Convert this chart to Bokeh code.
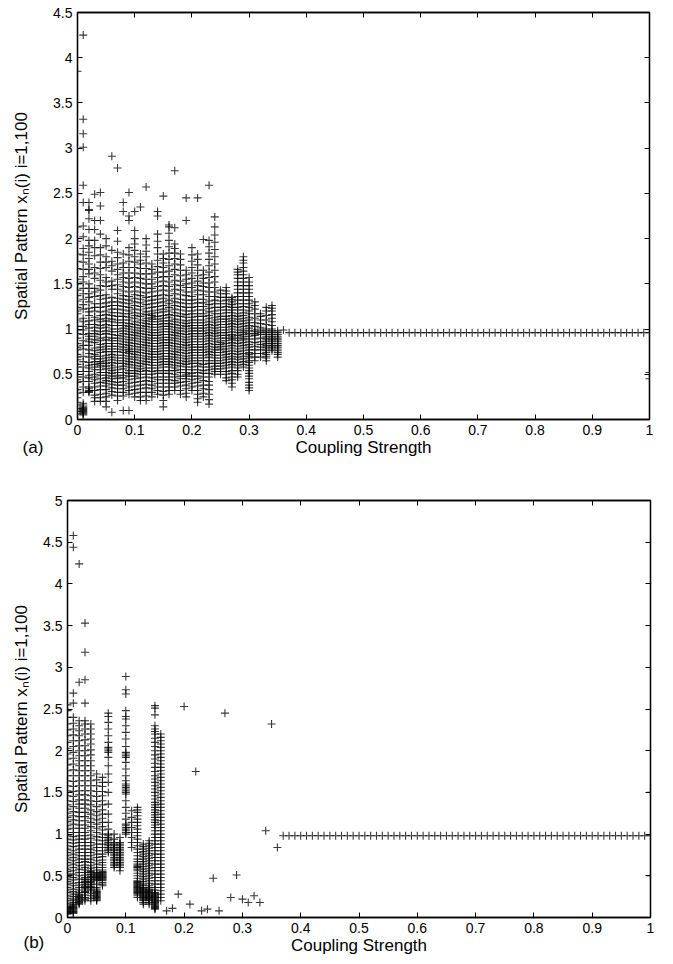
from bokeh.plotting import figure
from bokeh.models import LinearAxis, FixedTicker, Label, Range1d
from bokeh.embed import file_html
from bokeh.resources import INLINE

# ---------------- data: panel (a) ----------------
a_coupling_dense = [0.00, 0.01, 0.02, 0.03, 0.04, 0.05, 0.06, 0.07, 0.08, 0.09,
                    0.10, 0.11, 0.12, 0.13, 0.14, 0.15, 0.16, 0.17, 0.18, 0.19,
                    0.20, 0.21, 0.22, 0.23, 0.24, 0.25, 0.26, 0.27, 0.28, 0.29,
                    0.30, 0.31, 0.32, 0.33, 0.34, 0.35, 0.36]
a_values_dense = [
    [0.06, 0.09, 0.12, 0.16, 0.24, 0.33, 0.41, 0.47, 0.53, 0.61, 0.66, 0.72, 0.77, 0.84, 0.9, 0.95, 1.03, 1.1, 1.17, 1.24, 1.31, 1.43, 1.55, 1.67, 1.83, 1.97, 2.13, 3.85],
    [0.05, 0.06, 0.07, 0.08, 0.09, 0.1, 0.11, 0.12, 0.13, 0.14, 0.16, 0.18, 0.36, 0.47, 0.58, 0.7, 0.78, 0.87, 0.94, 1.03, 1.12, 1.22, 1.33, 1.45, 1.58, 1.74, 1.89, 2.02, 2.14, 2.4, 2.59, 3.01, 3.16, 3.32, 4.25],
    [0.3, 0.31, 0.32, 0.34, 0.42, 0.49, 0.57, 0.63, 0.69, 0.77, 0.82, 0.89, 0.95, 1.01, 1.09, 1.15, 1.23, 1.3, 1.39, 1.5, 1.61, 1.72, 1.85, 1.98, 2.1, 2.22, 2.31, 2.32, 2.4],
    [0.2, 0.27, 0.36, 0.44, 0.5, 0.55, 0.61, 0.67, 0.72, 0.79, 0.85, 0.92, 0.98, 1.05, 1.13, 1.2, 1.28, 1.36, 1.45, 1.56, 1.68, 1.81, 1.98, 2.2, 2.49],
    [0.2, 0.28, 0.37, 0.45, 0.52, 0.58, 0.6, 0.62, 0.64, 0.7, 0.77, 0.83, 0.9, 0.97, 1.04, 1.11, 1.19, 1.28, 1.37, 1.48, 1.6, 1.74, 1.9, 2.05, 2.2, 2.36, 2.51],
    [0.14, 0.25, 0.33, 0.4, 0.46, 0.52, 0.59, 0.65, 0.71, 0.78, 0.84, 0.91, 0.98, 1.05, 1.12, 1.2, 1.29, 1.38, 1.47, 1.57, 1.68, 1.8, 1.92, 2.0],
    [0.08, 0.27, 0.35, 0.42, 0.48, 0.54, 0.6, 0.66, 0.72, 0.78, 0.84, 0.9, 0.97, 1.04, 1.11, 1.18, 1.26, 1.35, 1.44, 1.53, 1.64, 1.75, 1.87, 2.91],
    [0.21, 0.3, 0.38, 0.45, 0.47, 0.49, 0.55, 0.62, 0.68, 0.75, 0.81, 0.87, 0.93, 1.0, 1.07, 1.14, 1.22, 1.3, 1.39, 1.49, 1.6, 1.72, 1.85, 1.97, 2.09, 2.78],
    [0.1, 0.26, 0.34, 0.42, 0.49, 0.56, 0.62, 0.68, 0.74, 0.8, 0.86, 0.92, 0.98, 1.04, 1.1, 1.17, 1.25, 1.33, 1.42, 1.52, 1.62, 1.73, 1.83, 2.3, 2.4],
    [0.1, 0.28, 0.36, 0.44, 0.51, 0.58, 0.64, 0.7, 0.75, 0.77, 0.79, 0.85, 0.91, 0.97, 1.03, 1.1, 1.17, 1.24, 1.32, 1.41, 1.51, 1.62, 1.75, 1.9, 2.2, 2.25, 2.51],
    [0.25, 0.33, 0.41, 0.48, 0.54, 0.6, 0.66, 0.72, 0.78, 0.84, 0.9, 0.96, 1.02, 1.08, 1.15, 1.22, 1.3, 1.38, 1.47, 1.57, 1.68, 1.8, 1.94, 2.09, 2.3],
    [0.21, 0.3, 0.38, 0.46, 0.53, 0.59, 0.65, 0.71, 0.77, 0.83, 0.89, 0.95, 1.01, 1.07, 1.14, 1.21, 1.29, 1.37, 1.46, 1.56, 1.67, 1.76, 1.83, 2.35],
    [0.21, 0.3, 0.39, 0.47, 0.54, 0.61, 0.67, 0.73, 0.79, 0.85, 0.91, 0.97, 1.03, 1.09, 1.16, 1.23, 1.31, 1.4, 1.5, 1.61, 1.73, 1.86, 2.0, 2.57],
    [0.25, 0.34, 0.42, 0.5, 0.57, 0.63, 0.69, 0.75, 0.81, 0.87, 0.93, 0.99, 1.05, 1.11, 1.13, 1.15, 1.17, 1.24, 1.32, 1.41, 1.5, 1.61, 1.72],
    [0.28, 0.36, 0.44, 0.51, 0.57, 0.63, 0.69, 0.75, 0.81, 0.87, 0.93, 0.99, 1.05, 1.11, 1.18, 1.25, 1.33, 1.42, 1.52, 1.63, 1.76, 1.9, 2.05, 2.25, 2.3],
    [0.14, 0.27, 0.36, 0.44, 0.51, 0.58, 0.64, 0.7, 0.76, 0.82, 0.88, 0.94, 1.0, 1.06, 1.12, 1.19, 1.26, 1.34, 1.43, 1.53, 1.63, 1.73, 1.83, 2.47],
    [0.28, 0.36, 0.44, 0.51, 0.58, 0.64, 0.7, 0.76, 0.82, 0.88, 0.94, 1.0, 1.06, 1.13, 1.2, 1.28, 1.37, 1.47, 1.58, 1.7, 1.84, 1.98, 2.13, 2.15],
    [0.32, 0.4, 0.47, 0.54, 0.6, 0.66, 0.72, 0.78, 0.84, 0.9, 0.96, 1.02, 1.08, 1.15, 1.22, 1.3, 1.39, 1.49, 1.6, 1.72, 1.84, 1.94, 2.12, 2.75],
    [0.28, 0.37, 0.45, 0.52, 0.59, 0.65, 0.71, 0.77, 0.83, 0.89, 0.95, 1.01, 1.07, 1.14, 1.21, 1.29, 1.38, 1.48, 1.59, 1.71, 1.83],
    [0.25, 0.34, 0.42, 0.48, 0.5, 0.52, 0.58, 0.64, 0.7, 0.76, 0.82, 0.88, 0.94, 1.0, 1.06, 1.13, 1.2, 1.28, 1.37, 1.46, 1.55, 1.65, 2.2, 2.45],
    [0.32, 0.4, 0.48, 0.55, 0.62, 0.68, 0.74, 0.8, 0.86, 0.92, 0.98, 1.04, 1.1, 1.17, 1.24, 1.32, 1.41, 1.51, 1.62, 1.75, 1.9],
    [0.19, 0.28, 0.37, 0.45, 0.52, 0.59, 0.65, 0.71, 0.77, 0.83, 0.89, 0.95, 1.01, 1.07, 1.14, 1.21, 1.29, 1.38, 1.48, 1.59, 1.71, 1.83, 2.45],
    [0.25, 0.34, 0.43, 0.51, 0.58, 0.65, 0.71, 0.77, 0.83, 0.89, 0.95, 1.01, 1.07, 1.14, 1.21, 1.29, 1.38, 1.47, 1.56, 1.65, 1.99],
    [0.17, 0.28, 0.38, 0.47, 0.55, 0.62, 0.69, 0.75, 0.81, 0.87, 0.93, 0.99, 1.05, 1.12, 1.19, 1.27, 1.36, 1.46, 1.57, 1.7, 1.84, 1.98, 2.59],
    [0.5, 0.56, 0.62, 0.68, 0.74, 0.8, 0.86, 0.92, 0.98, 1.04, 1.1, 1.17, 1.24, 1.32, 1.41, 1.52, 1.65, 1.8, 1.96, 2.13, 2.24],
    [0.5, 0.56, 0.62, 0.68, 0.74, 0.79, 0.81, 0.83, 0.85, 0.9, 0.96, 1.02, 1.08, 1.14, 1.21, 1.28, 1.35, 1.43],
    [0.43, 0.5, 0.57, 0.63, 0.69, 0.75, 0.81, 0.87, 0.93, 0.99, 1.05, 1.11, 1.18, 1.25, 1.32, 1.39, 1.46],
    [0.36, 0.44, 0.51, 0.58, 0.64, 0.7, 0.76, 0.82, 0.88, 0.9, 0.92, 0.94, 1.0, 1.06, 1.12, 1.18, 1.24, 1.3, 1.35],
    [0.47, 0.54, 0.6, 0.66, 0.72, 0.78, 0.84, 0.9, 0.96, 1.02, 1.08, 1.14, 1.21, 1.28, 1.36, 1.44, 1.52, 1.6, 1.66],
    [0.58, 0.64, 0.7, 0.76, 0.82, 0.88, 0.92, 0.94, 0.96, 1.0, 1.06, 1.12, 1.18, 1.25, 1.32, 1.4, 1.48, 1.56, 1.64, 1.73, 1.8],
    [0.32, 0.38, 0.45, 0.51, 0.57, 0.63, 0.68, 0.7, 0.72, 0.74, 0.8, 0.86, 0.92, 0.98, 1.04, 1.1, 1.17, 1.24, 1.32, 1.4, 1.48, 1.57],
    [0.65, 0.69, 0.73, 0.77, 0.81, 0.85, 0.89, 0.93, 0.95, 0.97, 0.99, 1.03, 1.07, 1.12, 1.17, 1.22, 1.26, 1.3],
    [0.69, 0.73, 0.77, 0.8, 0.83, 0.86, 0.9, 0.94, 0.96, 0.98, 1.0, 1.02, 1.06, 1.1, 1.14, 1.17],
    [0.65, 0.68, 0.7, 0.72, 0.74, 0.76, 0.78, 0.8, 0.82, 0.84, 0.86, 0.88, 0.9, 0.92, 0.94, 0.96, 0.98, 1.0, 1.05, 1.1, 1.15, 1.2, 1.24],
    [0.76, 0.78, 0.8, 0.82, 0.84, 0.86, 0.88, 0.9, 0.92, 0.94, 0.96, 0.98, 1.0, 1.04, 1.08, 1.12, 1.16, 1.2, 1.23, 1.26],
    [0.69, 0.72, 0.74, 0.76, 0.78, 0.8, 0.82, 0.84, 0.86, 0.88, 0.9, 0.92, 0.94, 0.96, 0.98],
    [0.99],
]
# second set of readings (more sites i) for the same couplings 0.00 .. 0.30
a_coupling_dense_2 = [0.00, 0.01, 0.02, 0.03, 0.04, 0.05, 0.06, 0.07, 0.08, 0.09,
                      0.10, 0.11, 0.12, 0.13, 0.14, 0.15, 0.16, 0.17, 0.18, 0.19,
                      0.20, 0.21, 0.22, 0.23, 0.24, 0.25, 0.26, 0.27, 0.28, 0.29, 0.30]
a_values_dense_2 = [
    [0.19, 0.29, 0.44, 0.58, 0.69, 0.8, 0.99, 1.2, 1.37, 1.5, 1.75],
    [0.3, 0.42, 0.53, 0.64, 0.82, 0.99, 1.08, 1.27, 1.39, 1.52, 1.66, 1.82],
    [0.36, 0.46, 0.53, 0.6, 0.73, 0.86, 0.92, 1.05, 1.19, 1.35, 1.45, 1.66, 1.78, 1.92],
    [0.24, 0.32, 0.4, 0.47, 0.58, 0.64, 0.7, 0.76, 0.88, 0.95, 1.02, 1.1, 1.24, 1.41, 1.62, 1.9, 2.1],
    [0.24, 0.33, 0.41, 0.49, 0.55, 0.67, 0.74, 0.8, 0.87, 0.94, 1.01, 1.08, 1.15, 1.24, 1.33, 1.43, 1.54, 1.67, 1.82],
    [0.2, 0.29, 0.37, 0.43, 0.49, 0.56, 0.62, 0.68, 0.75, 0.81, 0.88, 0.95, 1.02, 1.09, 1.16, 1.25, 1.34, 1.52, 1.74],
    [0.31, 0.39, 0.45, 0.51, 0.57, 0.63, 0.69, 0.75, 0.81, 0.87, 0.94, 1.0, 1.08, 1.15, 1.22, 1.3, 1.48, 1.7],
    [0.26, 0.34, 0.41, 0.52, 0.58, 0.65, 0.71, 0.78, 0.84, 0.9, 0.97, 1.04, 1.1, 1.18, 1.26, 1.34, 1.44, 1.55, 1.66, 1.79],
    [0.3, 0.38, 0.46, 0.52, 0.59, 0.65, 0.71, 0.77, 0.83, 0.89, 0.95, 1.01, 1.07, 1.14, 1.21, 1.29, 1.37, 1.47, 1.57, 1.68],
    [0.32, 0.4, 0.48, 0.54, 0.61, 0.67, 0.73, 0.82, 0.88, 0.94, 1.0, 1.06, 1.13, 1.2, 1.28, 1.36, 1.46, 1.56, 1.68, 1.82],
    [0.29, 0.37, 0.45, 0.51, 0.57, 0.63, 0.69, 0.75, 0.81, 0.87, 0.93, 0.99, 1.05, 1.12, 1.18, 1.26, 1.34, 1.42, 1.52, 1.62, 1.74, 1.87, 2.0],
    [0.25, 0.34, 0.42, 0.5, 0.56, 0.62, 0.68, 0.74, 0.8, 0.86, 0.92, 0.98, 1.04, 1.1, 1.17, 1.25, 1.33, 1.41, 1.51, 1.61, 1.72],
    [0.26, 0.35, 0.43, 0.5, 0.57, 0.64, 0.7, 0.76, 0.82, 0.88, 0.94, 1.0, 1.06, 1.12, 1.19, 1.27, 1.35, 1.45, 1.55, 1.67, 1.8, 1.93],
    [0.3, 0.38, 0.46, 0.53, 0.6, 0.66, 0.72, 0.78, 0.84, 0.9, 0.96, 1.02, 1.08, 1.2, 1.28, 1.36, 1.45, 1.55, 1.66],
    [0.32, 0.4, 0.47, 0.54, 0.6, 0.66, 0.72, 0.78, 0.84, 0.9, 0.96, 1.02, 1.08, 1.14, 1.21, 1.29, 1.37, 1.47, 1.57, 1.69, 1.83, 1.97],
    [0.21, 0.31, 0.4, 0.47, 0.54, 0.61, 0.67, 0.73, 0.79, 0.85, 0.91, 0.97, 1.03, 1.09, 1.15, 1.22, 1.3, 1.38, 1.48, 1.58, 1.68, 1.78],
    [0.32, 0.4, 0.47, 0.54, 0.61, 0.67, 0.73, 0.79, 0.85, 0.91, 0.97, 1.03, 1.09, 1.16, 1.24, 1.32, 1.42, 1.52, 1.64, 1.77, 1.91, 2.06],
    [0.36, 0.43, 0.5, 0.57, 0.63, 0.69, 0.75, 0.81, 0.87, 0.93, 0.99, 1.05, 1.11, 1.18, 1.26, 1.34, 1.44, 1.54, 1.66, 1.78, 1.89],
    [0.32, 0.41, 0.48, 0.55, 0.62, 0.68, 0.74, 0.8, 0.86, 0.92, 0.98, 1.04, 1.1, 1.17, 1.25, 1.33, 1.43, 1.53, 1.65, 1.77],
    [0.29, 0.38, 0.45, 0.55, 0.61, 0.67, 0.73, 0.79, 0.85, 0.91, 0.97, 1.03, 1.09, 1.16, 1.24, 1.32, 1.41, 1.5, 1.6],
    [0.36, 0.44, 0.51, 0.58, 0.65, 0.71, 0.77, 0.83, 0.89, 0.95, 1.01, 1.07, 1.13, 1.2, 1.28, 1.36, 1.46, 1.56, 1.68, 1.82],
    [0.23, 0.32, 0.41, 0.48, 0.55, 0.62, 0.68, 0.74, 0.8, 0.86, 0.92, 0.98, 1.04, 1.1, 1.17, 1.25, 1.33, 1.43, 1.53, 1.65, 1.77],
    [0.29, 0.38, 0.47, 0.54, 0.61, 0.68, 0.74, 0.8, 0.86, 0.92, 0.98, 1.04, 1.1, 1.17, 1.25, 1.33, 1.42, 1.51, 1.6],
    [0.22, 0.33, 0.42, 0.51, 0.58, 0.65, 0.72, 0.78, 0.84, 0.9, 0.96, 1.02, 1.08, 1.15, 1.23, 1.31, 1.41, 1.51, 1.63, 1.77, 1.91],
    [0.53, 0.59, 0.65, 0.71, 0.77, 0.83, 0.89, 0.95, 1.01, 1.07, 1.13, 1.2, 1.28, 1.36, 1.46, 1.58, 1.72, 1.88, 2.04],
    [0.53, 0.59, 0.65, 0.71, 0.77, 0.87, 0.93, 0.99, 1.05, 1.11, 1.17, 1.24, 1.31, 1.39],
    [0.46, 0.53, 0.6, 0.66, 0.72, 0.78, 0.84, 0.9, 0.96, 1.02, 1.08, 1.14, 1.21, 1.28, 1.35, 1.42],
    [0.4, 0.47, 0.54, 0.61, 0.67, 0.73, 0.79, 0.85, 0.97, 1.03, 1.09, 1.15, 1.21, 1.27, 1.33],
    [0.5, 0.57, 0.63, 0.69, 0.75, 0.81, 0.87, 0.93, 0.99, 1.05, 1.11, 1.17, 1.24, 1.32, 1.4, 1.48, 1.56, 1.63],
    [0.61, 0.67, 0.73, 0.79, 0.85, 0.9, 0.98, 1.03, 1.09, 1.15, 1.21, 1.28, 1.36, 1.44, 1.52, 1.6, 1.68, 1.76],
    [0.35, 0.41, 0.48, 0.54, 0.6, 0.65, 0.77, 0.83, 0.89, 0.95, 1.01, 1.07, 1.13, 1.2, 1.28, 1.36, 1.44, 1.52],
]
a_coupling_sync = [0.37, 0.38, 0.39, 0.40, 0.41, 0.42, 0.43, 0.44, 0.45, 0.46, 0.47, 0.48,
                   0.49, 0.50, 0.51, 0.52, 0.53, 0.54, 0.55, 0.56, 0.57, 0.58, 0.59, 0.60,
                   0.61, 0.62, 0.63, 0.64, 0.65, 0.66, 0.67, 0.68, 0.69, 0.70, 0.71, 0.72,
                   0.73, 0.74, 0.75, 0.76, 0.77, 0.78, 0.79, 0.80, 0.81, 0.82, 0.83, 0.84,
                   0.85, 0.86, 0.87, 0.88, 0.89, 0.90, 0.91, 0.92, 0.93, 0.94, 0.95, 0.96,
                   0.97, 0.98, 0.99, 1.00]
a_sync_value = 0.96
a_coupling_extra = [1.00, 1.00]
a_values_extra = [0.52, 0.45]

# ---------------- data: panel (b) ----------------
b_coupling_dense = [0.00, 0.01, 0.02, 0.03, 0.04, 0.05, 0.06, 0.07, 0.08, 0.09,
                    0.10, 0.11, 0.12, 0.13, 0.14, 0.15, 0.16]
b_values_dense = [
    [0.04, 0.05, 0.06, 0.07, 0.08, 0.09, 0.1, 0.12, 0.15, 0.2, 0.26, 0.33, 0.4, 0.46, 0.52, 0.58, 0.66, 0.74, 0.82, 0.9, 0.98, 1.06, 1.15, 1.25, 1.35, 1.46, 1.58, 1.7, 1.83, 1.96, 2.1, 2.25, 2.4, 2.55],
    [0.05, 0.06, 0.07, 0.08, 0.09, 0.1, 0.12, 0.14, 0.16, 0.18, 0.2, 0.25, 0.31, 0.38, 0.45, 0.52, 0.6, 0.68, 0.76, 0.85, 0.93, 1.02, 1.12, 1.22, 1.33, 1.45, 1.57, 1.7, 1.84, 1.98, 2.12, 2.26, 2.4, 2.57, 2.69, 4.44, 4.58],
    [0.16, 0.18, 0.2, 0.22, 0.24, 0.26, 0.28, 0.3, 0.36, 0.42, 0.5, 0.58, 0.66, 0.74, 0.82, 0.9, 0.98, 1.07, 1.16, 1.26, 1.36, 1.47, 1.58, 1.7, 1.82, 1.94, 2.06, 2.18, 2.3, 2.36, 2.82, 4.24],
    [0.2, 0.24, 0.3, 0.33, 0.36, 0.39, 0.42, 0.45, 0.48, 0.54, 0.6, 0.67, 0.74, 0.82, 0.9, 0.98, 1.07, 1.16, 1.26, 1.36, 1.47, 1.58, 1.7, 1.82, 1.94, 2.06, 2.2, 2.32, 2.36, 2.57, 2.85, 3.18, 3.53],
    [0.2, 0.26, 0.32, 0.36, 0.39, 0.42, 0.45, 0.48, 0.51, 0.54, 0.56, 0.62, 0.7, 0.78, 0.86, 0.95, 1.04, 1.14, 1.24, 1.35, 1.46, 1.58, 1.7, 1.82, 1.95, 2.08, 2.2, 2.32],
    [0.2, 0.22, 0.24, 0.26, 0.28, 0.3, 0.32, 0.36, 0.44, 0.46, 0.48, 0.5, 0.52, 0.54, 0.6, 0.68, 0.76, 0.84, 0.93, 1.02, 1.12, 1.22, 1.33, 1.45, 1.58, 1.72],
    [0.38, 0.42, 0.45, 0.47, 0.49, 0.51, 0.53, 0.55, 0.6, 0.66, 0.73, 0.8, 0.88, 0.96, 1.05, 1.14, 1.24, 1.35, 1.46, 1.57, 1.68],
    [0.78, 0.8, 0.82, 0.84, 0.86, 0.88, 0.9, 0.92, 0.94, 0.96, 0.98, 1.0, 1.06, 1.14, 1.24, 1.36, 1.5, 1.62, 1.72, 1.82, 1.92, 1.98, 2.0, 2.02, 2.04, 2.1, 2.18, 2.26, 2.34, 2.41, 2.45],
    [0.6, 0.62, 0.64, 0.66, 0.68, 0.7, 0.72, 0.74, 0.76, 0.78, 0.8, 0.82, 0.84, 0.86, 0.88, 0.9, 0.94, 1.0],
    [0.56, 0.6, 0.62, 0.64, 0.66, 0.68, 0.7, 0.72, 0.74, 0.76, 0.78, 0.8, 0.82, 0.84, 0.86, 0.88, 0.9, 0.96],
    [1.0, 1.02, 1.04, 1.06, 1.08, 1.1, 1.12, 1.18, 1.25, 1.32, 1.4, 1.48, 1.5, 1.52, 1.54, 1.56, 1.58, 1.6, 1.64, 1.7, 1.78, 1.86, 1.92, 1.94, 1.96, 1.98, 2.05, 2.14, 2.22, 2.3, 2.38, 2.41, 2.48, 2.68, 2.73, 2.89],
    [0.84, 0.9, 0.96, 1.02, 1.08, 1.14, 1.2, 1.28],
    [0.24, 0.28, 0.3, 0.32, 0.34, 0.36, 0.38, 0.4, 0.42, 0.44, 0.5, 0.56, 0.6, 0.62, 0.64, 0.7, 0.78, 0.86, 0.94, 1.02, 1.1, 1.18, 1.26, 1.32],
    [0.16, 0.2, 0.22, 0.24, 0.26, 0.28, 0.3, 0.32, 0.34, 0.36, 0.4, 0.46, 0.52, 0.58, 0.64, 0.7, 0.76, 0.82, 0.88],
    [0.16, 0.2, 0.22, 0.24, 0.26, 0.28, 0.3, 0.32, 0.34, 0.38, 0.44, 0.5, 0.56, 0.62, 0.68, 0.74, 0.8, 0.86, 0.92],
    [0.1, 0.12, 0.14, 0.16, 0.18, 0.2, 0.22, 0.24, 0.26, 0.28, 0.3, 0.36, 0.44, 0.52, 0.6, 0.68, 0.76, 0.84, 0.92, 1.0, 1.08, 1.14, 1.2, 1.26, 1.32, 1.38, 1.46, 1.54, 1.62, 1.7, 1.8, 1.9, 2.0, 2.1, 2.2, 2.26, 2.3, 2.43, 2.51, 2.54],
    [0.2, 0.28, 0.36, 0.44, 0.52, 0.6, 0.68, 0.76, 0.84, 0.92, 1.0, 1.08, 1.16, 1.24, 1.32, 1.4, 1.48, 1.56, 1.64, 1.72, 1.8, 1.88, 1.96, 2.04, 2.12, 2.2],
]
# second set of readings for the dense (b) columns
b_coupling_dense_2 = [0.00, 0.01, 0.02, 0.03, 0.04, 0.05, 0.06, 0.12, 0.13, 0.14, 0.15, 0.16]
b_values_dense_2 = [
    [0.11, 0.13, 0.17, 0.23, 0.3, 0.36, 0.43, 0.49, 0.55, 0.62, 0.7, 0.78, 0.86, 0.94, 1.02, 1.1, 1.2, 1.3, 1.4, 1.52, 1.64, 1.76, 1.9, 2.03, 2.18, 2.32, 2.48],
    [0.11, 0.13, 0.15, 0.22, 0.28, 0.34, 0.41, 0.48, 0.56, 0.64, 0.72, 0.8, 0.89, 0.97, 1.07, 1.17, 1.27, 1.39, 1.51, 1.63, 1.77, 1.91, 2.05, 2.19, 2.33],
    [0.17, 0.19, 0.21, 0.23, 0.25, 0.27, 0.33, 0.39, 0.46, 0.54, 0.62, 0.7, 0.78, 0.86, 0.94, 1.02, 1.11, 1.21, 1.31, 1.41, 1.52, 1.64, 1.76, 1.88, 2.0, 2.12, 2.24],
    [0.22, 0.27, 0.31, 0.35, 0.37, 0.4, 0.43, 0.46, 0.51, 0.57, 0.63, 0.7, 0.78, 0.86, 0.94, 1.02, 1.11, 1.21, 1.31, 1.41, 1.52, 1.64, 1.76, 1.88, 2.0, 2.13, 2.26],
    [0.23, 0.29, 0.34, 0.37, 0.4, 0.43, 0.46, 0.49, 0.52, 0.55, 0.59, 0.66, 0.74, 0.82, 0.9, 0.99, 1.09, 1.19, 1.29, 1.4, 1.52, 1.64, 1.76, 1.88, 2.01, 2.14, 2.26],
    [0.21, 0.23, 0.25, 0.27, 0.29, 0.31, 0.34, 0.4, 0.45, 0.47, 0.49, 0.51, 0.53, 0.57, 0.64, 0.72, 0.8, 0.88, 0.97, 1.07, 1.17, 1.27, 1.39, 1.51, 1.65],
    [0.4, 0.44, 0.46, 0.48, 0.5, 0.52, 0.54, 0.57, 0.63, 0.69, 0.76, 0.84, 0.92, 1.0, 1.09, 1.19, 1.29, 1.4, 1.51, 1.62],
    [0.26, 0.29, 0.31, 0.33, 0.35, 0.37, 0.39, 0.41, 0.43, 0.47, 0.53, 0.58, 0.61, 0.67, 0.74, 0.82, 0.9, 0.98, 1.06, 1.14, 1.22, 1.29],
    [0.18, 0.21, 0.23, 0.25, 0.27, 0.29, 0.31, 0.33, 0.35, 0.38, 0.43, 0.49, 0.55, 0.61, 0.67, 0.73, 0.79, 0.85],
    [0.18, 0.21, 0.23, 0.25, 0.27, 0.29, 0.31, 0.33, 0.36, 0.41, 0.47, 0.53, 0.59, 0.65, 0.71, 0.77, 0.83, 0.89],
    [0.11, 0.13, 0.15, 0.17, 0.19, 0.21, 0.23, 0.25, 0.27, 0.29, 0.33, 0.4, 0.48, 0.56, 0.64, 0.72, 0.8, 0.88, 0.96, 1.04, 1.11, 1.17, 1.23, 1.29, 1.35, 1.42, 1.5, 1.58, 1.66, 1.75, 1.85, 1.95, 2.05, 2.15, 2.23],
    [0.24, 0.32, 0.4, 0.48, 0.56, 0.64, 0.72, 0.8, 0.88, 0.96, 1.04, 1.12, 1.2, 1.28, 1.36, 1.44, 1.52, 1.6, 1.68, 1.76, 1.84, 1.92, 2.0, 2.08, 2.16],
]
b_coupling_sparse = [0.17, 0.18, 0.19, 0.20, 0.21, 0.22, 0.23, 0.24, 0.25, 0.26,
                     0.27, 0.28, 0.29, 0.30, 0.31, 0.32, 0.33, 0.34, 0.35, 0.36]
b_values_sparse = [0.08, 0.11, 0.28, 2.53, 0.16, 1.75, 0.08, 0.10, 0.47, 0.08,
                   2.45, 0.24, 0.51, 0.22, 0.18, 0.26, 0.18, 1.04, 2.32, 0.84]
b_coupling_sync = a_coupling_sync
b_sync_value = 0.98
b_coupling_extra = [1.00, 1.00]
b_values_extra = [1.50, 0.50]

# ---------------- ticks / labels ----------------
x_ticks = [0.0, 0.1, 0.2, 0.3, 0.4, 0.5, 0.6, 0.7, 0.8, 0.9, 1.0]
x_tick_labels = ["0", "0.1", "0.2", "0.3", "0.4", "0.5", "0.6", "0.7", "0.8", "0.9", "1"]
a_y_ticks = [0.0, 0.5, 1.0, 1.5, 2.0, 2.5, 3.0, 3.5, 4.0, 4.5]
a_y_tick_labels = ["0", "0.5", "1", "1.5", "2", "2.5", "3", "3.5", "4", "4.5"]
b_y_ticks = [0.0, 0.5, 1.0, 1.5, 2.0, 2.5, 3.0, 3.5, 4.0, 4.5, 5.0]
b_y_tick_labels = ["0", "0.5", "1", "1.5", "2", "2.5", "3", "3.5", "4", "4.5", "5"]
x_title = "Coupling Strength"
y_title = "Spatial Pattern x\u2099(i) i=1,100"

FONT = "Liberation Sans"


def flatten(coupling, cols):
    xs, ys = [], []
    for c, vals in zip(coupling, cols):
        xs.extend([c] * len(vals))
        ys.extend(vals)
    return xs, ys


def make_panel(xs, ys, ymax, yticks, ylabels, tag, tag_x, tag_y,
               height, ml, mt, mr, mb, label_standoff):
    p = figure(width=673, height=height, x_range=Range1d(0, 1), y_range=Range1d(0, ymax),
               output_backend="svg", toolbar_location=None,
               min_border_left=ml, min_border_top=mt, min_border_right=mr, min_border_bottom=mb)
    p.xgrid.visible = False
    p.ygrid.visible = False
    p.outline_line_color = "black"
    p.outline_line_width = 1.3
    p.background_fill_color = "white"
    p.border_fill_color = "white"

    p.scatter(xs, ys, marker="cross", size=8, line_color="black", line_alpha=0.78, line_width=1.1)

    for ax, ticks, labels in ((p.xaxis[0], x_ticks, x_tick_labels), (p.yaxis[0], yticks, ylabels)):
        ax.ticker = FixedTicker(ticks=ticks)
        ax.major_label_overrides = {t: l for t, l in zip(ticks, labels)}
        ax.major_tick_in = 5
        ax.major_tick_out = 0
        ax.minor_tick_in = 0
        ax.minor_tick_out = 0
        ax.axis_line_width = 1.3
        ax.major_tick_line_width = 1
        ax.major_label_text_font = FONT
        ax.major_label_text_font_size = "14px"
        ax.major_label_text_color = "black"
        ax.axis_label_text_font = FONT
        ax.axis_label_text_font_size = "17px"
        ax.axis_label_text_font_style = "normal"
        ax.axis_label_text_color = "black"
        ax.major_label_standoff = 5
    p.xaxis[0].axis_label = x_title
    p.xaxis[0].axis_label_standoff = 0
    p.yaxis[0].axis_label = y_title
    p.yaxis[0].axis_label_standoff = label_standoff

    # mirrored tick marks on top and right
    top = LinearAxis(ticker=FixedTicker(ticks=x_ticks), major_tick_in=5, major_tick_out=0,
                     minor_tick_in=0, minor_tick_out=0, axis_line_width=1.3,
                     major_label_text_font_size="0px", major_label_standoff=0,
                     major_label_overrides={t: "" for t in x_ticks})
    right = LinearAxis(ticker=FixedTicker(ticks=yticks), major_tick_in=5, major_tick_out=0,
                       minor_tick_in=0, minor_tick_out=0, axis_line_width=1.3,
                       major_label_text_font_size="0px", major_label_standoff=0,
                       major_label_overrides={t: "" for t in yticks})
    p.add_layout(top, "above")
    p.add_layout(right, "right")

    # panel tag, held by a side panel so it is not clipped to the frame
    p.add_layout(Label(x=tag_x, y=tag_y, text=tag, text_font=FONT, text_font_size="17px",
                       text_baseline="middle", text_align="left", text_color="black"), "right")
    return p


# panel (a)
ax_, ay_ = flatten(a_coupling_dense, a_values_dense)
ax2, ay2 = flatten(a_coupling_dense_2, a_values_dense_2)
ax_ += ax2 + a_coupling_sync + a_coupling_extra
ay_ += ay2 + [a_sync_value] * len(a_coupling_sync) + a_values_extra
pa = make_panel(ax_, ay_, 4.5, a_y_ticks, a_y_tick_labels, "(a)", -0.096, -0.31,
                height=476, ml=77, mt=12, mr=24, mb=57, label_standoff=19)

# panel (b)
bx_, by_ = flatten(b_coupling_dense, b_values_dense)
bx2, by2 = flatten(b_coupling_dense_2, b_values_dense_2)
bx_ += bx2 + b_coupling_sparse + b_coupling_sync + b_coupling_extra
by_ += by2 + b_values_sparse + [b_sync_value] * len(b_coupling_sync) + b_values_extra
pb = make_panel(bx_, by_, 5.0, b_y_ticks, b_y_tick_labels, "(b)", -0.0755, -0.30,
                height=488, ml=67, mt=24, mr=23, mb=47, label_standoff=9)

open("out.html", "w").write(file_html([pa, pb], INLINE))
